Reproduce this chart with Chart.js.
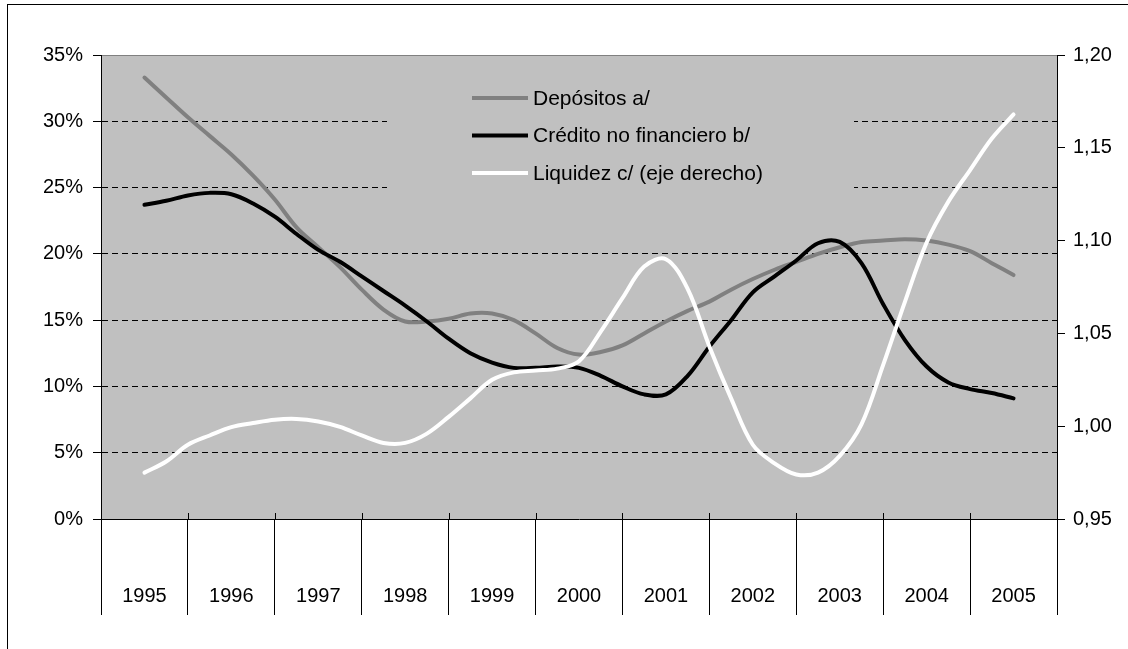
<!DOCTYPE html>
<html>
<head>
<meta charset="utf-8">
<script src="https://cdn.jsdelivr.net/npm/chart.js@4/dist/chart.umd.min.js"></script>
<style>
  body { margin: 0; background: #fff; }
  #wrap { width: 1128px; height: 649px; }
</style>
</head>
<body>
<div id="wrap"><canvas id="chart"></canvas></div>
<script>
const years = ["1995", "1996", "1997", "1998", "1999", "2000", "2001", "2002", "2003", "2004", "2005"];

// quarterly values, first point in the middle of 1995, last in the middle of 2005
const depositos = [
  33.3, 31.8, 30.3, 28.9, 27.5, 25.9, 24.1, 22.0, 20.5, 19.0,
  17.3, 15.8, 14.9, 14.9, 15.1, 15.5, 15.5, 15.0, 14.0, 12.9,
  12.4, 12.6, 13.1, 14.0, 14.9, 15.7, 16.4, 17.3, 18.1, 18.8,
  19.4, 20.0, 20.5, 20.9, 21.0, 21.1, 21.0, 20.7, 20.2, 19.3, 18.4,
];
const credito = [
  23.7, 24.0, 24.4, 24.6, 24.5, 23.8, 22.8, 21.5, 20.3, 19.4,
  18.3, 17.2, 16.1, 14.9, 13.6, 12.5, 11.8, 11.4, 11.4, 11.5,
  11.4, 10.8, 10.0, 9.4, 9.4, 10.8, 13.0, 15.0, 17.1, 18.3,
  19.5, 20.8, 20.9, 19.3, 16.2, 13.5, 11.5, 10.3, 9.8, 9.5, 9.1,
];
const liquidez = [
  0.975, 0.981, 0.990, 0.995, 0.9995, 1.0017, 1.0035, 1.0039, 1.0025, 0.9996,
  0.995, 0.991, 0.991, 0.996, 1.005, 1.015, 1.025, 1.029, 1.030, 1.031,
  1.035, 1.051, 1.069, 1.086, 1.090, 1.074, 1.043, 1.015, 0.990, 0.980,
  0.974, 0.975, 0.984, 1.001, 1.033, 1.067, 1.099, 1.121, 1.138, 1.155, 1.168,
];

const toPoints = (arr) => arr.map((v, i) => ({ x: 0.5 + i / 4, y: v }));
const font = { family: "'Liberation Sans', Arial, sans-serif", size: 20 };

const background = {
  id: "background",
  beforeDraw(chart) {
    const { ctx, chartArea: a } = chart;
    ctx.save();
    ctx.fillStyle = "#fff";
    ctx.fillRect(0, 0, chart.width, chart.height);
    ctx.fillStyle = "#c0c0c0";
    ctx.fillRect(a.left, a.top, a.right - a.left, a.bottom - a.top);
    ctx.strokeStyle = "#000";
    ctx.lineWidth = 1;
    ctx.strokeRect(7.5, 4.5, chart.width, chart.height);
    ctx.strokeStyle = "#808080";
    ctx.beginPath();
    ctx.moveTo(a.left, a.top + 0.5);
    ctx.lineTo(a.right, a.top + 0.5);
    ctx.stroke();
    ctx.restore();
  },
};

const legendBox = {
  id: "legendBox",
  beforeDatasetsDraw(chart) {
    const { ctx, chartArea: a, scales } = chart;
    ctx.save();
    ctx.fillStyle = "#c0c0c0";
    ctx.fillRect(387, 76, 467, 116);

    // small inward tick marks on the category axis
    ctx.strokeStyle = "#000";
    ctx.lineWidth = 1;
    for (let i = 0; i <= years.length; i++) {
      const x = Math.round(scales.x.getPixelForValue(i)) + 0.5;
      ctx.beginPath();
      ctx.moveTo(x, a.bottom - 6);
      ctx.lineTo(x, a.bottom);
      ctx.stroke();
    }

    ctx.font = "21px 'Liberation Sans', Arial, sans-serif";
    ctx.textBaseline = "middle";
    chart.data.datasets.forEach((ds, i) => {
      const y = 98 + i * 37.5;
      ctx.strokeStyle = ds.borderColor;
      ctx.lineWidth = 4;
      ctx.beginPath();
      ctx.moveTo(472, y);
      ctx.lineTo(528, y);
      ctx.stroke();
      ctx.fillStyle = "#000";
      ctx.fillText(ds.label, 533, y + 1);
    });
    ctx.restore();
  },
};

const ctxMain = document.getElementById("chart").getContext("2d");
const mainChart = new Chart(ctxMain, {
  type: "line",
  data: {
    datasets: [
      {
        label: "Depósitos a/",
        data: toPoints(depositos),
        borderColor: "#808080",
        borderWidth: 4,
        yAxisID: "y",
        order: 2,
      },
      {
        label: "Crédito no financiero b/",
        data: toPoints(credito),
        borderColor: "#000000",
        borderWidth: 4,
        yAxisID: "y",
        order: 1,
      },
      {
        label: "Liquidez c/ (eje derecho)",
        data: toPoints(liquidez),
        borderColor: "#ffffff",
        borderWidth: 4,
        yAxisID: "y1",
        order: 0,
      },
    ],
  },
  options: {
    responsive: true,
    maintainAspectRatio: false,
    animation: false,
    events: [],
    elements: {
      point: { radius: 0 },
      line: { tension: 0.35, borderCapStyle: "round", borderJoinStyle: "round" },
    },
    layout: { padding: { top: 55, left: 0, right: 0, bottom: 0 } },
    plugins: {
      legend: { display: false },
      tooltip: { enabled: false },
    },
    scales: {
      x: {
        type: "linear",
        min: 0,
        max: years.length,
        afterFit: (scale) => { scale.height = 130; },
        ticks: {
          stepSize: 0.5,
          autoSkip: false,
          maxRotation: 0,
          padding: -31,
          color: "#000",
          font: font,
          callback: (v) => (v % 1 === 0.5 ? years[Math.floor(v)] : ""),
        },
        grid: {
          drawOnChartArea: false,
          tickLength: 96,
          tickColor: (c) => (Number.isInteger(c.tick.value) ? "#000" : "rgba(0,0,0,0)"),
        },
        border: { color: "#000", width: 1 },
      },
      y: {
        position: "left",
        min: 0,
        max: 35,
        afterFit: (scale) => { scale.width = 101; },
        ticks: {
          stepSize: 5,
          padding: 10,
          color: "#000",
          font: font,
          callback: (v) => v + "%",
        },
        grid: {
          color: (c) => (c.tick.value === 0 || c.tick.value === 35 ? "rgba(0,0,0,0)" : "#000"),
          tickColor: "#000",
          tickLength: 8,
          lineWidth: 1,
        },
        border: { color: "#000", width: 1, dash: [6, 4] },
      },
      y1: {
        position: "right",
        min: 0.95,
        max: 1.2,
        afterFit: (scale) => { scale.width = 71; },
        ticks: {
          stepSize: 0.05,
          padding: 8,
          color: "#000",
          font: font,
          callback: (v) => v.toFixed(2).replace(".", ","),
        },
        grid: {
          drawOnChartArea: false,
          tickColor: "#000",
          tickLength: 8,
        },
        border: { color: "#000", width: 1 },
      },
    },
  },
  plugins: [background, legendBox],
});
</script>
</body>
</html>
